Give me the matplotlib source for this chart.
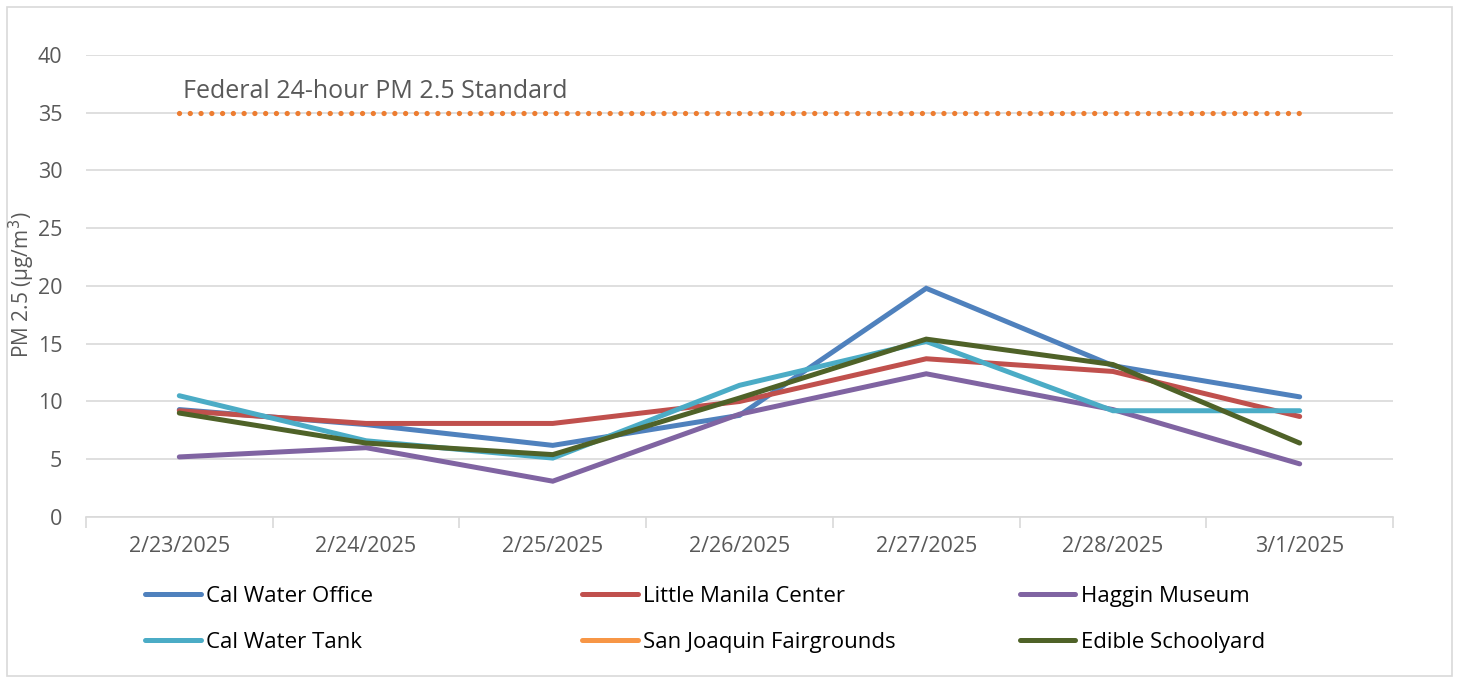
import matplotlib.pyplot as plt
from matplotlib.lines import Line2D
from matplotlib.patches import Rectangle

plt.rcParams["font.family"] = ["Open Sans", "DejaVu Sans"]

dates = ["2/23/2025", "2/24/2025", "2/25/2025", "2/26/2025", "2/27/2025", "2/28/2025", "3/1/2025"]

cal_water_office = [9.3, 8.0, 6.2, 8.8, 19.8, 13.1, 10.4]
little_manila = [9.2, 8.1, 8.1, 10.0, 13.7, 12.6, 8.7]
haggin_museum = [5.2, 6.0, 3.1, 8.9, 12.4, 9.3, 4.6]
cal_water_tank = [10.5, 6.6, 5.1, 11.4, 15.2, 9.2, 9.2]
san_joaquin = []  # no readings shown
edible_schoolyard = [9.0, 6.4, 5.4, 10.3, 15.4, 13.2, 6.4]
standard = [35] * 7

series = [
    ("Cal Water Office", cal_water_office, "#4F81BD"),
    ("Little Manila Center", little_manila, "#C0504D"),
    ("Haggin Museum", haggin_museum, "#8064A2"),
    ("Cal Water Tank", cal_water_tank, "#4BACC6"),
    ("San Joaquin Fairgrounds", san_joaquin, "#F79646"),
    ("Edible Schoolyard", edible_schoolyard, "#4F6228"),
]

fig = plt.figure(figsize=(14.59, 6.79), dpi=100)
fig.patches.append(Rectangle((0.005, 0.005), 0.99, 0.985, transform=fig.transFigure,
                             fill=False, edgecolor="#D9D9D9", linewidth=1.2))
ax = fig.add_axes([0.0589, 0.2386, 0.8959, 0.6804])

x = list(range(len(dates)))
handles = {}
for name, vals, color in series:
    xs = x[:len(vals)]
    ax.plot(xs, vals, color=color, linewidth=3.6, solid_capstyle="round",
            solid_joinstyle="miter", zorder=3)
    handles[name] = Line2D([], [], color=color, linewidth=3.6, solid_capstyle="round")

ax.plot(x, standard, color="#ED7D31", linewidth=3.8, linestyle=(0, (0.01, 2.03)),
        dash_capstyle="round", zorder=3)
ax.text(0.02, 36.8, "Federal 24-hour PM 2.5 Standard", fontsize=18, color="#595959",
        ha="left", va="center")

ax.set_xlim(-0.5, 6.5)
ax.set_ylim(0, 40)
ax.set_yticks(range(0, 41, 5))
ax.set_xticks(x)
ax.set_xticklabels(dates)
ax.set_xticks([i - 0.5 for i in range(8)], minor=True)
ax.tick_params(axis="x", which="major", length=0, pad=14, labelsize=15.5, labelcolor="#595959")
ax.tick_params(axis="x", which="minor", length=8, color="#D9D9D9", width=1.2)
ax.tick_params(axis="y", length=0, pad=17, labelsize=15.5, labelcolor="#595959")
ax.grid(axis="y", color="#D9D9D9", linewidth=1.2, zorder=0)
for s in ["top", "right", "left"]:
    ax.spines[s].set_visible(False)
ax.spines["bottom"].set_color("#D9D9D9")
ax.spines["bottom"].set_linewidth(1.2)
fig.text(22 / 1459, 1 - 285 / 679, "PM 2.5 (µg/m$^3$)", fontsize=15, color="#595959",
         rotation=90, ha="center", va="center")

columns = [
    (0.0994, ["Cal Water Office", "Cal Water Tank"]),
    (0.399, ["Little Manila Center", "San Joaquin Fairgrounds"]),
    (0.699, ["Haggin Museum", "Edible Schoolyard"]),
]
for xpos, names in columns:
    fig.legend([handles[n] for n in names], names, loc="center left",
               bbox_to_anchor=(xpos, 0.0877), frameon=False, fontsize=16,
               handlelength=2.5, handletextpad=0.25, labelspacing=1.15,
               borderpad=0, borderaxespad=0)

plt.savefig("out.png", dpi=100)
